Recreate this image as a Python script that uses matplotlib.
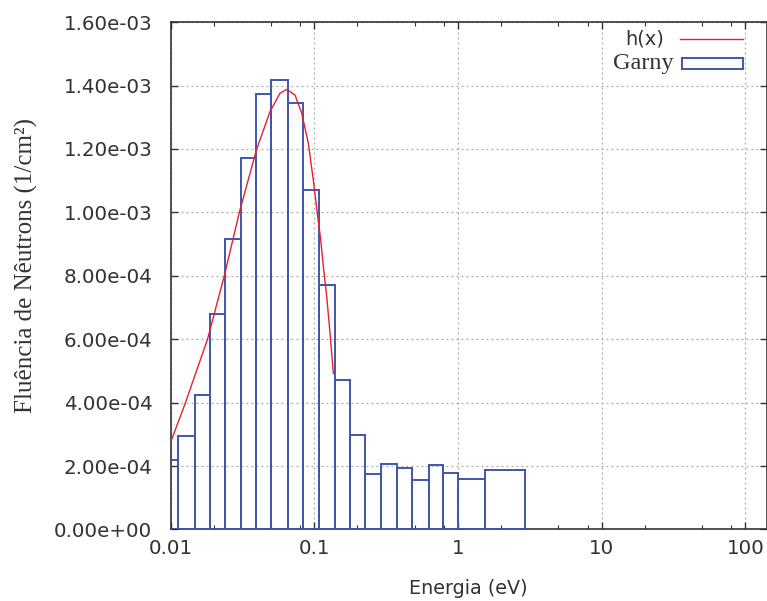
import numpy as np
import matplotlib
matplotlib.use("Agg")
import matplotlib.pyplot as plt
from matplotlib.ticker import FixedLocator, FuncFormatter

# bin edges (eV) and fluence per bin (1/cm^2) for Garny
edges = [0.0088, 0.01128, 0.01474, 0.01883, 0.02395, 0.03079, 0.03936, 0.0503,
         0.0654, 0.0832, 0.1085, 0.1389, 0.1775, 0.2268, 0.293, 0.3767,
         0.4817, 0.6266, 0.787, 1.0, 1.549, 2.944]
garny = [2.19e-4, 2.95e-4, 4.25e-4, 6.80e-4, 9.16e-4, 1.171e-3, 1.373e-3,
         1.417e-3, 1.345e-3, 1.071e-3, 7.72e-4, 4.72e-4, 2.99e-4, 1.75e-4,
         2.06e-4, 1.95e-4, 1.55e-4, 2.02e-4, 1.79e-4, 1.59e-4, 1.86e-4]

# h(x) curve
hx_e = [0.0100, 0.01262, 0.01804, 0.02368, 0.03012, 0.0398, 0.04925,
        0.05781, 0.06437, 0.07352, 0.08185, 0.09099, 0.09856, 0.1051, 0.111,
        0.1157, 0.1222, 0.1288, 0.1359]
hx_v = [2.74e-4, 3.96e-4, 5.98e-4, 8.0e-4, 1.0e-3, 1.2e-3, 1.318e-3,
        1.376e-3, 1.388e-3, 1.370e-3, 1.313e-3, 1.218e-3, 1.102e-3, 0.997e-3,
        0.913e-3, 0.829e-3, 0.734e-3, 0.619e-3, 0.492e-3]

xticks = [0.01, 0.1, 1, 10, 100]
xticklabels = ["0.01", "0.1", "1", "10", "100"]
yticks = np.arange(0, 1.61e-3, 2e-4)

blue = "#3f56ab"
red = "#e8202a"
txt = "#333333"

fig = plt.figure(figsize=(7.67, 6.01), dpi=100)
ax = fig.add_axes([0.2223, 0.1191, 0.7775, 0.8440])

e = np.array(edges)
ax.bar(e[:-1], garny, width=np.diff(e), align="edge", fill=False,
       edgecolor=blue, linewidth=1.4, zorder=3)
ax.plot(hx_e, hx_v, color=red, linewidth=1.0, zorder=4)

ax.set_xscale("log")
ax.set_xlim(0.01, 141)
ax.set_ylim(0, 1.6e-3)

ax.xaxis.set_major_locator(FixedLocator(xticks))
ax.xaxis.set_major_formatter(FuncFormatter(lambda v, p: xticklabels[xticks.index(v)] if v in xticks else ""))
minors = [m * 10.0 ** k for k in range(-2, 3) for m in (2, 5, 8)]
ax.xaxis.set_minor_locator(FixedLocator(minors))
ax.xaxis.set_minor_formatter(FuncFormatter(lambda v, p: ""))
ax.yaxis.set_major_locator(FixedLocator(yticks))
ax.yaxis.set_major_formatter(FuncFormatter(lambda v, p: f"{v:.2e}"))

ax.tick_params(axis="both", which="major", direction="in", length=5, width=1,
               color=txt, labelsize=14.3, labelcolor=txt, top=True, right=True)
ax.tick_params(axis="x", which="minor", direction="in", length=3, width=0.8,
               color=txt, top=True)
ax.tick_params(axis="x", which="major", pad=7)
ax.tick_params(axis="y", which="major", pad=13)

ax.grid(True, which="major", color="#a8a8a8", linestyle=(0, (1.5, 2.5)), linewidth=0.9, zorder=1)
ax.set_axisbelow(True)
for s in ax.spines.values():
    s.set_color(txt)
    s.set_linewidth(1.2)

ax.set_xlabel("Energia (eV)", fontsize=13.8, color=txt, va="center")
ax.xaxis.set_label_coords(0.5, -0.116)
ax.set_ylabel("Fluência de Nêutrons (1/cm²)", fontsize=18, color=txt,
              family="Liberation Serif")
ax.yaxis.set_label_coords(-0.222, 0.52)

# key
ax.plot([0.855, 0.96], [0.966, 0.966], transform=ax.transAxes, color=red,
        linewidth=1.0, clip_on=False)
ax.add_patch(plt.Rectangle((0.857, 0.908), 0.103, 0.022, transform=ax.transAxes,
                           fill=False, edgecolor=blue, linewidth=1.4))
ax.text(0.827, 0.966, "h(x)", transform=ax.transAxes, ha="right", va="center",
        fontsize=14, color=txt)
ax.text(0.843, 0.919, "Garny", transform=ax.transAxes, ha="right", va="center",
        fontsize=17.5, color=txt, family="Liberation Serif")

fig.savefig("out.png", dpi=100)
